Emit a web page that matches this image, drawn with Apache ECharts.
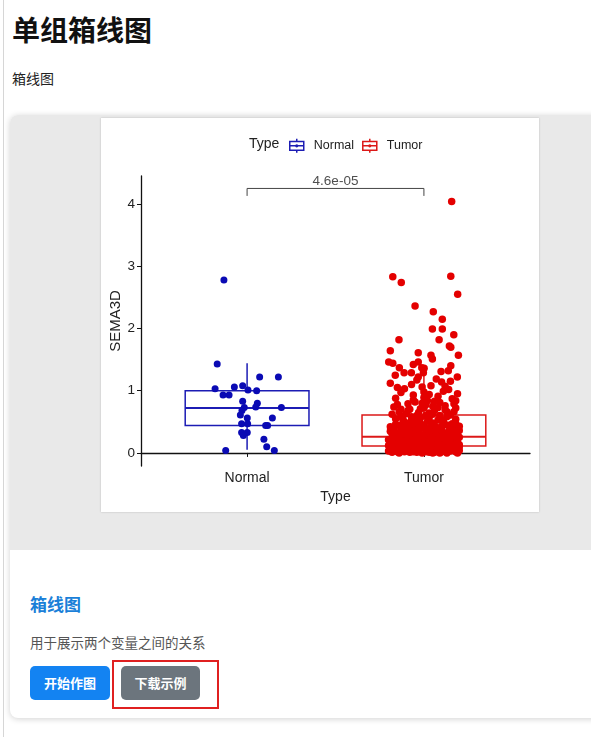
<!DOCTYPE html>
<html>
<head>
<meta charset="utf-8">
<script src="https://cdn.jsdelivr.net/npm/echarts@6/dist/echarts.min.js"></script>
<style>
  html, body { margin: 0; padding: 0; background: #fff; width: 591px; height: 737px; overflow: hidden;
    font-family: "Noto Sans CJK SC", "Noto Sans", sans-serif; }
  .rail { position: absolute; left: 3px; top: 0; width: 1px; height: 737px; background: #d6d6d6; }
  h1 { position: absolute; left: 12px; top: 9px; margin: 0; font-size: 28px; font-weight: 700; line-height: 40px; color: #111; }
  .sub { position: absolute; left: 12px; top: 68px; font-size: 14px; line-height: 20px; color: #222; }
  .card { position: absolute; left: 10px; top: 115px; width: 600px; height: 603px; border-radius: 8px; background: #fff;
    box-shadow: 0 1px 6px rgba(0,0,0,0.18); overflow: hidden; }
  .media { position: absolute; left: 0; top: 0; right: 0; height: 435px; background: #e9e9e9; }
  #chart { position: absolute; left: 91px; top: 3px; width: 438px; height: 394px; background: #fff;
    box-shadow: 0 0 2px rgba(0,0,0,0.2); }
  .card h3 { position: absolute; left: 20px; top: 477px; margin: 0; font-size: 17px; line-height: 24px; font-weight: 700; color: #1a7fd8; }
  .desc { position: absolute; left: 20px; top: 517px; font-size: 13.5px; line-height: 20px; color: #555; }
  .btn { position: absolute; top: 551px; height: 34px; line-height: 34px; border-radius: 5px; color: #fff;
    font-size: 13px; font-weight: 700; text-align: center; }
  .btn.go { left: 20px; width: 80px; background: #1383f2; }
  .btn.dl { left: 111px; width: 79px; background: #6c757d; }
  .mark { position: absolute; left: 102px; top: 545px; width: 103px; height: 45px; border: 2px solid #e02020; }
</style>
</head>
<body>
<div class="rail"></div>
<h1>单组箱线图</h1>
<div class="sub">箱线图</div>
<div class="card">
  <div class="media"><div id="chart"></div></div>
  <h3>箱线图</h3>
  <div class="desc">用于展示两个变量之间的关系</div>
  <div class="btn go">开始作图</div>
  <div class="btn dl">下载示例</div>
  <div class="mark"></div>
</div>
<script>
const categories = ['Normal', 'Tumor'];
const groupColors = ['#1c1cb4', '#dc1818'];
const pointColors = ['#0a0ab4', '#e40000'];
const yTicks = [0, 1, 2, 3, 4];
const pValueLabel = '4.6e-05';

// [x, min, Q1, median, Q3, max]
const normalBox = [1, 0.05, 0.44, 0.72, 1.00, 1.44];
const tumorBox = [2, 0.00, 0.11, 0.26, 0.61, 1.29];

// jittered sample points [x, SEMA3D]
const normalPoints = [
  [0.869, 2.78], [0.831, 1.43], [1.071, 1.22], [1.177, 1.22], [0.819, 1.03], [0.928, 1.06],
  [0.975, 1.08], [1.005, 1.01], [1.054, 1.00], [0.864, 0.93], [0.898, 0.93], [0.975, 0.83],
  [1.058, 0.80], [1.049, 0.74], [1.194, 0.73], [0.984, 0.73], [0.971, 0.68], [0.962, 0.61],
  [1.001, 0.56], [1.143, 0.56], [0.969, 0.47], [1.003, 0.47], [1.105, 0.44], [1.116, 0.44],
  [0.969, 0.33], [1.001, 0.33], [0.979, 0.28], [1.095, 0.22], [1.111, 0.10], [1.154, 0.04],
  [0.879, 0.04]
];

const tumorPoints = [
  [2.157, 4.04], [1.824, 2.83], [1.872, 2.74], [2.152, 2.84], [2.191, 2.55], [1.950, 2.36],
  [2.053, 2.27], [2.104, 2.15], [2.048, 1.99], [2.104, 1.99], [2.169, 1.90], [1.859, 1.82],
  [2.086, 1.82], [1.810, 1.64], [1.968, 1.61], [2.144, 1.72], [2.152, 1.70], [2.195, 1.57],
  [2.040, 1.57], [2.048, 1.51], [1.801, 1.46], [1.824, 1.44], [1.968, 1.46], [1.940, 1.42],
  [1.861, 1.37], [1.988, 1.37], [2.152, 1.40], [1.888, 1.29], [1.929, 1.29], [1.997, 1.29],
  [2.097, 1.31], [2.138, 1.32], [1.838, 1.25], [1.968, 1.22], [2.189, 1.22], [2.001, 1.36],
  [1.81, 1.12], [1.84, 0.88], [1.86, 0.66], [1.89, 1.03], [1.91, 0.79], [1.94, 0.93],
  [1.96, 1.17], [1.98, 0.71], [2.00, 0.98], [2.02, 0.84], [2.04, 1.08], [2.06, 0.68],
  [2.08, 0.91], [2.10, 1.14], [2.12, 0.76], [2.14, 1.02], [2.16, 0.87], [2.18, 0.72],
  [2.19, 0.95], [1.83, 0.74], [1.87, 0.97], [1.90, 0.63], [1.93, 1.10], [1.95, 0.82],
  [1.97, 0.65], [1.99, 1.06], [2.01, 0.77], [2.03, 0.94], [2.05, 0.62], [2.07, 1.19],
  [2.09, 0.81], [2.11, 0.99], [2.13, 0.66], [2.15, 1.15], [2.17, 0.79], [1.85, 1.05],
  [1.92, 0.70], [2.00, 0.89], [2.08, 0.73], [2.12, 1.07],
  [1.82, 0.62], [1.85, 0.78], [1.88, 0.55], [1.91, 0.68], [1.94, 0.85], [1.97, 0.52],
  [2.00, 0.72], [2.03, 0.64], [2.06, 0.83], [2.09, 0.56], [2.12, 0.69], [2.15, 0.61],
  [2.18, 0.84], [1.87, 0.70], [1.93, 0.58], [1.99, 0.80], [2.05, 0.75], [2.11, 0.53],
  [2.17, 0.66], [2.01, 0.60],
  [1.82, 0.31], [1.86, 0.44], [1.90, 0.28], [1.93, 0.52], [1.97, 0.37], [2.01, 0.29],
  [2.05, 0.48], [2.09, 0.33], [2.13, 0.58], [2.17, 0.40], [1.84, 0.55], [1.88, 0.36],
  [1.92, 0.41], [1.96, 0.60], [2.00, 0.45], [2.04, 0.34], [2.08, 0.53], [2.12, 0.30],
  [2.16, 0.47], [2.19, 0.27], [1.81, 0.42], [1.85, 0.29], [1.89, 0.50], [1.94, 0.32],
  [1.98, 0.56], [2.02, 0.39], [2.06, 0.27], [2.10, 0.43], [2.14, 0.35], [2.18, 0.54],
  [1.83, 0.38], [1.87, 0.59], [1.91, 0.33], [1.95, 0.46], [1.99, 0.28], [2.03, 0.57],
  [2.07, 0.38], [2.11, 0.49], [2.15, 0.31], [2.20, 0.36], [1.88, 0.47], [1.96, 0.35],
  [2.02, 0.51], [2.09, 0.60], [2.16, 0.26],
  [1.81, 0.35], [1.84, 0.46], [1.88, 0.32], [1.91, 0.44], [1.94, 0.38], [1.98, 0.47],
  [2.01, 0.33], [2.04, 0.42], [2.07, 0.31], [2.10, 0.37], [2.13, 0.45], [2.17, 0.34],
  [2.20, 0.43], [1.83, 0.40], [1.86, 0.33], [1.90, 0.39], [1.95, 0.31], [1.99, 0.41],
  [2.03, 0.36], [2.06, 0.44], [2.11, 0.32], [2.15, 0.39], [2.18, 0.47], [1.93, 0.46],
  [2.08, 0.40],
  [1.82, 0.14], [1.86, 0.21], [1.90, 0.12], [1.94, 0.18], [1.98, 0.25], [2.03, 0.13],
  [2.07, 0.19], [2.11, 0.24], [2.16, 0.15], [2.19, 0.22], [1.84, 0.25], [1.88, 0.17],
  [1.92, 0.23], [1.96, 0.12], [2.00, 0.16], [2.05, 0.22], [2.09, 0.14], [2.13, 0.19],
  [2.17, 0.12], [1.81, 0.19], [1.85, 0.13], [1.89, 0.26], [1.93, 0.15], [1.97, 0.20],
  [2.02, 0.24], [2.06, 0.16], [2.10, 0.11], [2.14, 0.23], [2.18, 0.18], [1.83, 0.22],
  [1.87, 0.16], [1.91, 0.20], [1.95, 0.24], [1.99, 0.13], [2.04, 0.18], [2.08, 0.25],
  [2.12, 0.14], [2.15, 0.20], [2.20, 0.13], [1.86, 0.24], [1.94, 0.11], [2.01, 0.21],
  [2.07, 0.12], [2.13, 0.26], [1.90, 0.16],
  [1.80, 0.21], [1.83, 0.28], [1.87, 0.19], [1.90, 0.24], [1.93, 0.29], [1.97, 0.17],
  [2.00, 0.27], [2.03, 0.20], [2.06, 0.29], [2.10, 0.18], [2.13, 0.28], [2.16, 0.22],
  [2.20, 0.25], [1.82, 0.17], [1.85, 0.23], [1.89, 0.30], [1.92, 0.17], [1.95, 0.21],
  [1.99, 0.29], [2.02, 0.18], [2.05, 0.25], [2.08, 0.21], [2.11, 0.28], [2.15, 0.16],
  [2.18, 0.26], [1.84, 0.18], [1.96, 0.27], [2.04, 0.15], [2.12, 0.21], [2.19, 0.17],
  [1.83, 0.03], [1.87, 0.08], [1.92, 0.01], [1.95, 0.06], [2.01, 0.02], [2.04, 0.09],
  [2.09, 0.04], [2.13, 0.00], [2.17, 0.07], [1.81, 0.10], [1.86, 0.00], [1.90, 0.05],
  [1.98, 0.08], [2.06, 0.01], [2.11, 0.06], [2.15, 0.03], [2.19, 0.09], [1.84, 0.05],
  [1.89, 0.02], [1.93, 0.10], [1.97, 0.03], [2.02, 0.07], [2.07, 0.05], [2.12, 0.10],
  [2.18, 0.02], [1.82, 0.07], [1.88, 0.11], [1.94, 0.04], [1.99, 0.00], [2.03, 0.04],
  [2.08, 0.08], [2.14, 0.05], [2.20, 0.04], [1.85, 0.02], [1.91, 0.07], [1.96, 0.01],
  [2.00, 0.10], [2.05, 0.00], [2.10, 0.02], [2.16, 0.08], [1.80, 0.03], [1.93, 0.06],
  [2.06, 0.11], [2.12, 0.04], [1.97, 0.09],
  [1.80, 0.12], [1.84, 0.09], [1.87, 0.13], [1.91, 0.03], [1.95, 0.14], [1.98, 0.05],
  [2.02, 0.12], [2.05, 0.07], [2.08, 0.15], [2.11, 0.03], [2.14, 0.12], [2.17, 0.04],
  [2.20, 0.10], [1.82, 0.01], [1.86, 0.06], [1.89, 0.14], [1.93, 0.08], [1.96, 0.04],
  [2.00, 0.13], [2.03, 0.01], [2.07, 0.09], [2.10, 0.13], [2.13, 0.07], [2.16, 0.12],
  [2.19, 0.00], [1.81, 0.05], [1.85, 0.15], [1.90, 0.09], [1.94, 0.02], [1.99, 0.06],
  [2.04, 0.14], [2.09, 0.00], [2.15, 0.09], [2.18, 0.14], [1.88, 0.04]
];

// significance bracket between the two groups
const bracket = [[1, 4.13], [1, 4.25], [2, 4.25], [2, 4.13]];

const chart = echarts.init(document.getElementById('chart'));

const boxIcon = 'path://M2,3H18V13H2Z M2,8H18 M10,0V3 M10,13V16 M9,8a1,1 0 1,0 2,0a1,1 0 1,0 -2,0';

function renderBox(params, api) {
  const x = api.value(0);
  const half = api.size([0.7, 0])[0] / 2;
  const lo = api.coord([x, api.value(1)]);
  const q1 = api.coord([x, api.value(2)]);
  const md = api.coord([x, api.value(3)]);
  const q3 = api.coord([x, api.value(4)]);
  const hi = api.coord([x, api.value(5)]);
  const color = api.visual('color');
  const st = { stroke: color, lineWidth: 1.5, fill: null };
  return {
    type: 'group',
    children: [
      { type: 'line', shape: { x1: hi[0], y1: hi[1], x2: q3[0], y2: q3[1] }, style: st },
      { type: 'line', shape: { x1: q1[0], y1: q1[1], x2: lo[0], y2: lo[1] }, style: st },
      { type: 'rect', shape: { x: q3[0] - half, y: q3[1], width: half * 2, height: q1[1] - q3[1] },
        style: { stroke: color, lineWidth: 1.5, fill: '#fff' } },
      { type: 'line', shape: { x1: md[0] - half, y1: md[1], x2: md[0] + half, y2: md[1] },
        style: { stroke: color, lineWidth: 2 } }
    ]
  };
}

const axisFont = { fontFamily: 'Liberation Sans, Arial, sans-serif', color: '#222' };

const option = {
  animation: false,
  textStyle: { fontFamily: 'Liberation Sans, Arial, sans-serif' },
  title: {
    text: 'Type', left: 143, top: 14,
    textStyle: { fontSize: 14, fontWeight: 'normal', color: '#222' }
  },
  legend: {
    left: 183, top: 15,
    itemWidth: 18, itemHeight: 14, itemGap: 8,
    textStyle: { fontSize: 12.5, color: '#222', padding: [0, 0, 0, 3] },
    data: [
      { name: 'Normal', icon: boxIcon, itemStyle: { color: 'transparent', borderColor: groupColors[0], borderWidth: 1.5 } },
      { name: 'Tumor', icon: boxIcon, itemStyle: { color: 'transparent', borderColor: groupColors[1], borderWidth: 1.5 } }
    ]
  },
  grid: { left: 40, right: 9, top: 58, bottom: 46, outerBoundsMode: 'none' },
  xAxis: {
    type: 'value', min: 0.4, max: 2.6,
    name: 'Type', nameLocation: 'middle', nameGap: 22,
    nameTextStyle: { ...axisFont, fontSize: 14 },
    axisLine: { lineStyle: { color: '#111', width: 1.3 } },
    axisTick: { customValues: [1, 2], length: 4, lineStyle: { color: '#111' } },
    axisLabel: { customValues: [1, 2], formatter: (v) => categories[Math.round(v) - 1], fontSize: 14, margin: 5, ...axisFont },
    splitLine: { show: false }
  },
  yAxis: {
    type: 'value', min: -0.21, max: 4.45,
    name: 'SEMA3D', nameLocation: 'middle', nameGap: 18, nameRotate: 90, nameMoveOverlap: false,
    nameTextStyle: { ...axisFont, fontSize: 15 },
    axisLine: { show: true, lineStyle: { color: '#111', width: 1.3 } },
    axisTick: { show: true, customValues: yTicks, length: 4, lineStyle: { color: '#111' } },
    axisLabel: { customValues: yTicks, fontSize: 13.5, margin: 6, ...axisFont },
    splitLine: { show: false }
  },
  series: [
    {
      name: 'Normal', type: 'custom', renderItem: renderBox,
      itemStyle: { color: groupColors[0] },
      encode: { x: 0, y: [1, 2, 3, 4, 5] },
      data: [normalBox]
    },
    {
      name: 'Tumor', type: 'custom', renderItem: renderBox,
      itemStyle: { color: groupColors[1] },
      encode: { x: 0, y: [1, 2, 3, 4, 5] },
      data: [tumorBox]
    },
    {
      name: 'Normal', type: 'scatter', symbolSize: 7,
      itemStyle: { color: pointColors[0], opacity: 1 },
      data: normalPoints, z: 3
    },
    {
      name: 'Tumor', type: 'scatter', symbolSize: 7.5,
      itemStyle: { color: pointColors[1], opacity: 1 },
      data: tumorPoints, z: 3
    },
    {
      name: 'bracket', type: 'line', symbol: 'none', silent: true,
      lineStyle: { color: '#444', width: 1 },
      data: bracket
    },
    {
      name: 'pvalue', type: 'scatter', symbolSize: 0, silent: true,
      data: [[1.5, 4.25]],
      label: { show: true, position: 'top', distance: 0, formatter: pValueLabel, fontSize: 13.5, color: '#222' }
    }
  ]
};

chart.setOption(option);
</script>
</body>
</html>
